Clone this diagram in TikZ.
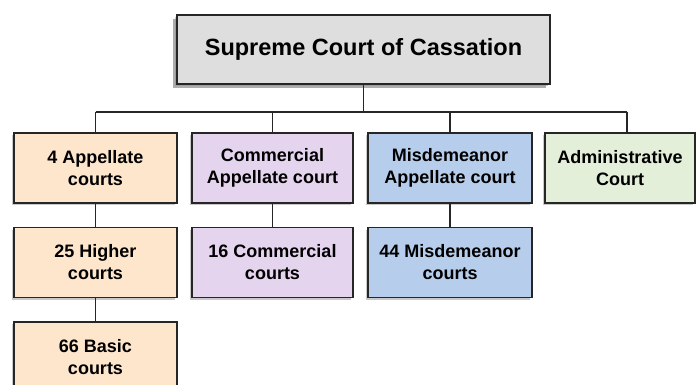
\documentclass[tikz,border=0pt]{standalone}
\usepackage{fontspec}
\setmainfont{Liberation Sans}
\usetikzlibrary{shadows}
\definecolor{peach}{RGB}{253,230,204}
\definecolor{lav}{RGB}{229,212,238}
\definecolor{bluec}{RGB}{182,206,236}
\definecolor{greenc}{RGB}{227,239,217}
\definecolor{grayc}{RGB}{222,222,222}
\tikzset{
  court/.style={draw=black!85, line width=1.4pt, minimum height=70pt, inner sep=0pt,
    align=center, font=\fontsize{18}{22}\selectfont\bfseries,
    drop shadow={shadow xshift=-2pt, shadow yshift=-2pt, fill=black!35, opacity=0.6}},
  conn/.style={line width=1.4pt, draw=black!85}
}
\begin{document}
\begin{tikzpicture}[x=1pt,y=1pt]
\useasboundingbox[fill=white] (0,0) rectangle (698,-385);
\node[court, fill=grayc, minimum width=373pt, minimum height=69pt,
  font=\fontsize{23.5}{28}\selectfont\bfseries,
  drop shadow={shadow xshift=-4pt, shadow yshift=-4pt, fill=black!45, opacity=0.7}]
  (top) at (363.5,-49.5) {Supreme Court of Cassation};
\node[court, fill=peach, minimum width=163pt] (a1) at (95.5,-168) {4 Appellate\\courts};
\node[court, fill=lav, minimum width=161pt] (b1) at (272.5,-168) {Commercial\\Appellate court};
\node[court, fill=bluec, minimum width=164pt] (c1) at (450,-168) {Misdemeanor\\Appellate court};
\node[court, fill=greenc, minimum width=150pt] (d1) at (620,-168) {Administrative\\Court};
\node[court, fill=peach, minimum width=163pt] (a2) at (95.5,-262.5) {25 Higher\\courts};
\node[court, fill=lav, minimum width=161pt] (b2) at (272.5,-262.5) {16 Commercial\\courts};
\node[court, fill=bluec, minimum width=164pt] (c2) at (450,-262.5) {44 Misdemeanor\\courts};
\node[court, fill=peach, minimum width=163pt] (a3) at (95.5,-357) {66 Basic\\courts};
\coordinate (jt) at (363.5,-112);
\coordinate (ja) at (95.5,-112);
\coordinate (jd) at (627,-112);
\draw[conn] (top.south) -- (jt);
\draw[conn] (ja) -- (jd);
\draw[conn] (ja) -- (a1.north);
\draw[conn] (b1.north |- jt) -- (b1.north);
\draw[conn] (c1.north |- jt) -- (c1.north);
\draw[conn] (jd) -- (jd |- d1.north);
\draw[conn] (a1) -- (a2);
\draw[conn] (b1) -- (b2);
\draw[conn] (c1) -- (c2);
\draw[conn] (a2) -- (a3);
\end{tikzpicture}
\end{document}
